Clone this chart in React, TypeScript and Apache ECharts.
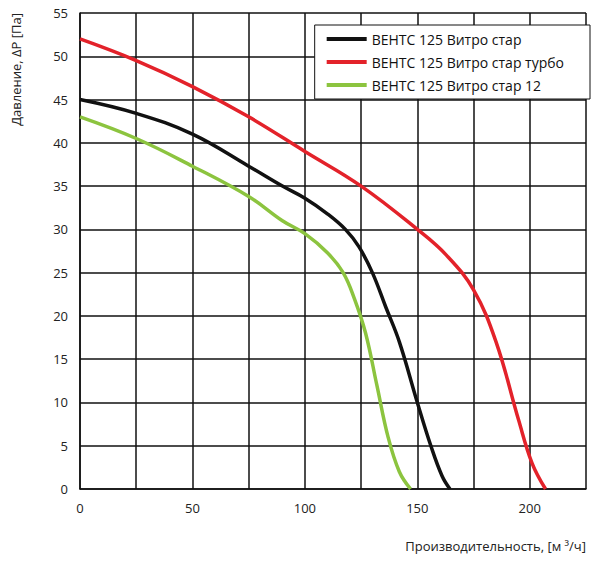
import * as echarts from "echarts";
import { useEffect, useRef } from "react";

const seriesNames = ["ВЕНТС 125 Витро стар", "ВЕНТС 125 Витро стар турбо", "ВЕНТС 125 Витро стар 12"];
const colors = ["#111111", "#e3222a", "#8cc43f"];
const black = [[0, 45], [25, 43.4], [50, 41], [75, 37.3], [90, 35], [100, 33.6], [110, 31.8], [118, 30], [124, 28], [130, 25], [136, 21], [142, 17], [150, 10], [156, 5], [161, 1.5], [164.5, 0]];
const red = [[0, 52], [25, 49.5], [50, 46.5], [75, 43], [100, 39], [125, 35], [150, 30], [163, 27], [175, 23], [185, 17], [195, 8], [201, 3], [207, 0]];
const green = [[0, 43], [25, 40.5], [50, 37.3], [75, 33.8], [90, 31], [100, 29.5], [110, 27.3], [117, 25], [122, 22], [127, 18], [132, 12], [137, 6], [142, 2], [147, 0]];

export default function App() {
  const ref = useRef<HTMLDivElement>(null);
  useEffect(() => {
    const chart = echarts.init(ref.current!, null, { renderer: "svg" });
    const font = "Open Sans";
    chart.setOption({
      animation: false,
      textStyle: { fontFamily: font },
      grid: { left: 72, right: 14, top: 5, bottom: 69, outerBoundsMode: "none", containLabel: false },
      legend: {
        orient: "vertical", right: 10, top: 17, itemWidth: 40, itemHeight: 4, itemGap: 9,
        backgroundColor: "#fff", borderColor: "#111", borderWidth: 1, padding: [7, 26, 7, 12],
        textStyle: { fontSize: 14, color: "#111", fontFamily: font },
        icon: "rect",
        data: seriesNames,
      },
      xAxis: {
        type: "value", min: 0, max: 225, interval: 25,
        name: "Производительность, [м ³/ч]", nameLocation: "end", nameGap: 0,
        nameTextStyle: { fontSize: 13, color: "#222", align: "right", verticalAlign: "top", padding: [50, 0, 0, 0] },
        axisLine: { lineStyle: { color: "#111", width: 1.5 } },
        axisTick: { show: false },
        axisLabel: { fontSize: 13, color: "#222", margin: 12, formatter: (v: number) => (v % 50 === 0 && v <= 200 ? String(v) : "") },
        splitLine: { show: true, lineStyle: { color: "#111", width: 1.5 } },
      },
      yAxis: {
        type: "value", min: 0, max: 55, interval: 5,
        name: "Давление, ΔP [Па]", nameLocation: "end", nameRotate: 90, nameGap: 0,
        nameTextStyle: { fontSize: 13, color: "#222", align: "right", verticalAlign: "bottom", padding: [0, 0, 58, 0] },
        axisLine: { show: true, lineStyle: { color: "#111", width: 1.5 } },
        axisTick: { show: false },
        axisLabel: { fontSize: 13, color: "#222", margin: 12 },
        splitLine: { lineStyle: { color: "#111", width: 1.5 } },
      },
      series: [black, red, green].map((d, i) => ({
        name: seriesNames[i], type: "line", data: d, smooth: 0.4, showSymbol: false,
        lineStyle: { color: colors[i], width: 3.5 }, itemStyle: { color: colors[i] },
      })),
    });
    return () => chart.dispose();
  }, []);
  return <div ref={ref} style={{ width: 592, height: 550 }} />;
}
